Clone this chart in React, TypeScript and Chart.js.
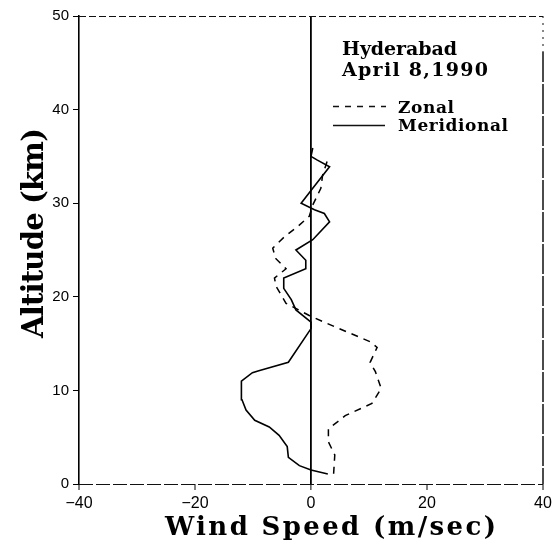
import React, { useEffect, useRef } from "react";
import { Chart, registerables } from "chart.js";

Chart.register(...registerables);

// Zonal wind (dashed): altitude (km) and speed (m/s)
const zonalAlt = [1.1, 3.1, 4.5, 5.9, 6.6, 7.3, 8.6, 10.2, 12.0, 13.0, 14.6, 15.2, 17.2, 18.0, 19.3, 21.1, 22.0, 23.0, 24.1, 25.2, 26.4, 27.5, 28.6, 29.8, 31.6, 33.0, 34.5];
const zonalSpeed = [3.9, 4.1, 3.0, 3.0, 4.5, 5.9, 10.5, 12.1, 11.1, 10.2, 11.4, 10.2, 2.6, -0.3, -4.3, -6.0, -6.3, -4.3, -6.1, -6.6, -4.6, -2.3, -0.3, 0.3, 1.7, 2.0, 2.8];

// Meridional wind (solid)
const meridAlt = [1.07, 1.5, 1.96, 2.85, 4.0, 5.2, 6.1, 6.8, 7.9, 9.0, 11.0, 11.9, 12.1, 13.0, 16.6, 17.3, 18.6, 19.7, 20.9, 22.0, 23.0, 23.9, 25.0, 26.1, 28.0, 28.9, 29.3, 30.0, 31.6, 33.9, 34.6, 35.0, 35.9];
const meridSpeed = [2.9, 0, -2.0, -3.9, -4.1, -5.5, -7.2, -9.7, -11.2, -11.9, -12.0, -10.1, -9.0, -3.9, 0, 0, -2.6, -3.4, -4.7, -4.7, -0.9, -0.9, -2.6, 0.3, 3.2, 2.3, 0.6, -1.7, 0.3, 3.2, 1.1, 0, 0.3];

const xTicks = [-40, -20, 0, 20, 40];
const yTicks = [0, 10, 20, 30, 40, 50];

const titleLines = ["Hyderabad", "April 8,1990"];
const legendLabels = ["Zonal", "Meridional"];
const xTitle = "Wind Speed (m/sec)";
const yTitle = "Altitude (km)";

function fitText(ctx: CanvasRenderingContext2D, text: string, x: number, y: number, target: number) {
  const c: any = ctx;
  c.letterSpacing = "0px";
  const w = ctx.measureText(text).width;
  let s = (target - w) / Math.max(1, text.length - 1);
  if (s < -1.5) s = -1.5;
  c.letterSpacing = s.toFixed(2) + "px";
  ctx.fillText(text, x, y);
  c.letterSpacing = "0px";
}

const decorPlugin = {
  id: "decor",
  afterDraw(chart: any) {
    const ctx: CanvasRenderingContext2D = chart.ctx;
    const a = chart.chartArea;
    ctx.save();
    ctx.strokeStyle = "#111";
    // top border dashed
    ctx.lineWidth = 1;
    ctx.setLineDash([7, 3]);
    ctx.beginPath();
    ctx.moveTo(a.left, a.top + 0.5);
    ctx.lineTo(a.right, a.top + 0.5);
    ctx.stroke();
    // bottom axis, broken line
    ctx.lineWidth = 1.2;
    ctx.setLineDash([14, 3]);
    ctx.beginPath();
    ctx.moveTo(a.left, a.bottom + 0.5);
    ctx.lineTo(a.right, a.bottom + 0.5);
    ctx.stroke();
    // right border: dotted upper part, solid below
    ctx.lineWidth = 1;
    ctx.setLineDash([2, 5]);
    ctx.beginPath();
    ctx.moveTo(a.right, a.top);
    ctx.lineTo(a.right, a.top + 36);
    ctx.stroke();
    ctx.setLineDash([30, 2]);
    ctx.lineWidth = 1.5;
    ctx.beginPath();
    ctx.moveTo(a.right, a.top + 36);
    ctx.lineTo(a.right, a.bottom);
    ctx.stroke();

    // legend samples
    ctx.lineWidth = 1.5;
    ctx.setLineDash([6, 6]);
    ctx.beginPath();
    ctx.moveTo(333, 106.5);
    ctx.lineTo(386, 106.5);
    ctx.stroke();
    ctx.setLineDash([]);
    ctx.beginPath();
    ctx.moveTo(333, 125.5);
    ctx.lineTo(385, 125.5);
    ctx.stroke();

    ctx.fillStyle = "#000";
    ctx.textAlign = "left";
    ctx.textBaseline = "alphabetic";
    ctx.font = "bold 19px 'DejaVu Serif'";
    fitText(ctx, titleLines[0], 342, 55, 115);
    fitText(ctx, titleLines[1], 342, 76, 146);
    ctx.font = "bold 17px 'DejaVu Serif'";
    fitText(ctx, legendLabels[0], 398, 113, 56);
    fitText(ctx, legendLabels[1], 398, 131, 110);

    // axis titles
    ctx.font = "bold 26px 'DejaVu Serif'";
    fitText(ctx, xTitle, 165, 535, 331);
    ctx.save();
    ctx.translate(43, 233);
    ctx.rotate(-Math.PI / 2);
    ctx.font = "bold 29px 'DejaVu Serif'";
    fitText(ctx, yTitle, -105, 0, 210);
    ctx.restore();
    ctx.restore();
  },
};

export default function App() {
  const ref = useRef<HTMLCanvasElement | null>(null);
  useEffect(() => {
    if (!ref.current) return;
    const zonalData = zonalAlt.map((y, i) => ({ x: zonalSpeed[i], y }));
    const meridData = meridAlt.map((y, i) => ({ x: meridSpeed[i], y }));
    const chart = new Chart(ref.current, {
      type: "scatter",
      data: {
        datasets: [
          {
            label: legendLabels[0],
            data: zonalData,
            showLine: true,
            borderColor: "#000",
            borderWidth: 1.5,
            borderDash: [7, 6],
            pointRadius: 0,
            tension: 0,
          },
          {
            label: legendLabels[1],
            data: meridData,
            showLine: true,
            borderColor: "#000",
            borderWidth: 1.6,
            pointRadius: 0,
            tension: 0,
          },
        ],
      },
      plugins: [decorPlugin],
      options: {
        animation: false,
        responsive: false,
        events: [],
        layout: { padding: { left: 0, top: 16, right: 13, bottom: 0 } },
        plugins: { legend: { display: false }, tooltip: { enabled: false } },
        scales: {
          x: {
            type: "linear",
            min: -40,
            max: 40,
            afterFit: (s: any) => { s.height = 58; },
            afterBuildTicks: (s: any) => { s.ticks = xTicks.map((v) => ({ value: v })); },
            ticks: {
              color: "#000",
              padding: 4,
              font: { family: "'Liberation Sans'", size: 16 },
              callback: (v: any) => (Number(v) < 0 ? "\u2212" + Math.abs(Number(v)) : String(v)),
            },
            grid: {
              drawOnChartArea: true,
              color: (c: any) => (c.tick && c.tick.value === 0 ? "#000" : "rgba(0,0,0,0)"),
              lineWidth: (c: any) => (c.tick && c.tick.value === 0 ? 1.8 : 0),
              tickColor: "#000",
              tickWidth: 1,
              tickLength: 6,
            },
            border: { display: false },
          },
          y: {
            type: "linear",
            min: 0,
            max: 50,
            afterFit: (s: any) => { s.width = 79; },
            afterBuildTicks: (s: any) => { s.ticks = yTicks.map((v) => ({ value: v })); },
            ticks: {
              color: "#000",
              padding: 4,
              font: { family: "'Liberation Sans'", size: 15 },
            },
            grid: {
              drawOnChartArea: false,
              color: "#000",
              tickColor: "#000",
              tickWidth: 1,
              tickLength: 6,
            },
            border: { display: true, color: "#000", width: 1.6 },
          },
        },
      },
    } as any);
    return () => chart.destroy();
  }, []);
  return (
    <div style={{ position: "fixed", left: 0, top: 0, width: 556, height: 542, background: "#fff" }}>
      <canvas ref={ref} width={556} height={542} style={{ width: 556, height: 542, display: "block" }} />
    </div>
  );
}
